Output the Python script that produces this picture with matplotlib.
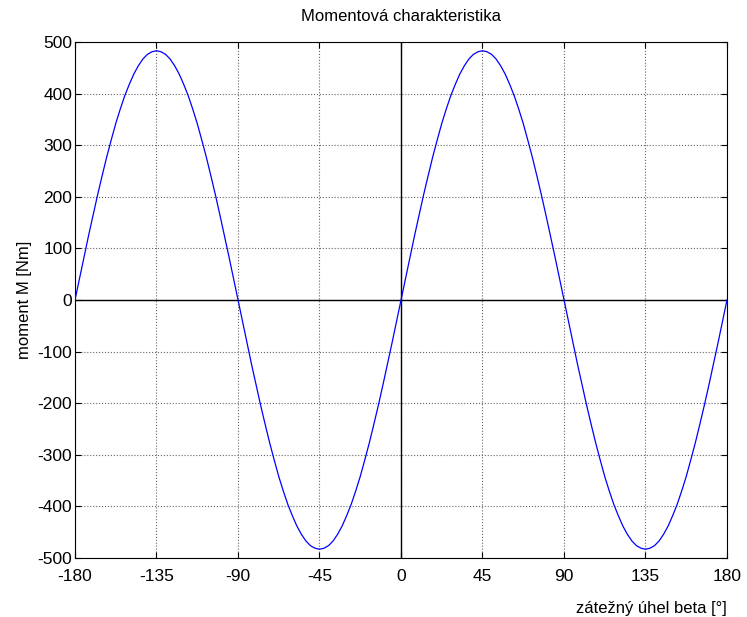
import matplotlib
matplotlib.use("Agg")
import matplotlib.pyplot as plt

plt.rcParams['font.family'] = ['Liberation Sans', 'DejaVu Sans']
plt.rcParams['axes.unicode_minus'] = False

# load angle beta [deg], read every 2.5 degrees
beta = [-180 + 2.5 * i for i in range(145)]

# torque M [Nm] (one half-period, repeats with alternating sign)
hump = [0, 42, 84, 125, 165, 204, 241, 277, 310, 342, 370, 396, 418, 438, 454, 467, 476, 481,
        483, 481, 476, 467, 454, 438, 418, 396, 370, 342, 310, 277, 241, 204, 165, 125, 84, 42]
moment = hump + [-v for v in hump] + hump + [-v for v in hump] + [0]

xticks = [-180, -135, -90, -45, 0, 45, 90, 135, 180]
yticks = [-500, -400, -300, -200, -100, 0, 100, 200, 300, 400, 500]

fig = plt.figure(figsize=(7.47, 6.17), dpi=100)
ax = fig.add_axes([0.1004, 0.0956, 0.8728, 0.8364])

ax.plot(beta, moment, color=(0, 0, 1), linewidth=0.9, zorder=3)
ax.axhline(0, color='black', linewidth=1.0, zorder=2)
ax.axvline(0, color='black', linewidth=1.0, zorder=2)

ax.set_xlim(-180, 180)
ax.set_ylim(-500, 500)
ax.set_xticks(xticks)
ax.set_yticks(yticks)
ax.tick_params(direction='in', top=True, right=True, length=4, labelsize=12.5, width=0.8)
ax.tick_params(axis='x', pad=8)
ax.tick_params(axis='y', pad=2)
ax.grid(True, linestyle=':', color='#666666', linewidth=0.8)
for s in ax.spines.values():
    s.set_linewidth(0.8)

ax.set_title("Momentová charakteristika", fontsize=12, pad=15)
ax.set_ylabel("moment M [Nm]", fontsize=12, labelpad=4)
ax.set_xlabel("zátežný úhel beta [°]", fontsize=12, loc='right', labelpad=12)

fig.savefig("out.png", dpi=100)
